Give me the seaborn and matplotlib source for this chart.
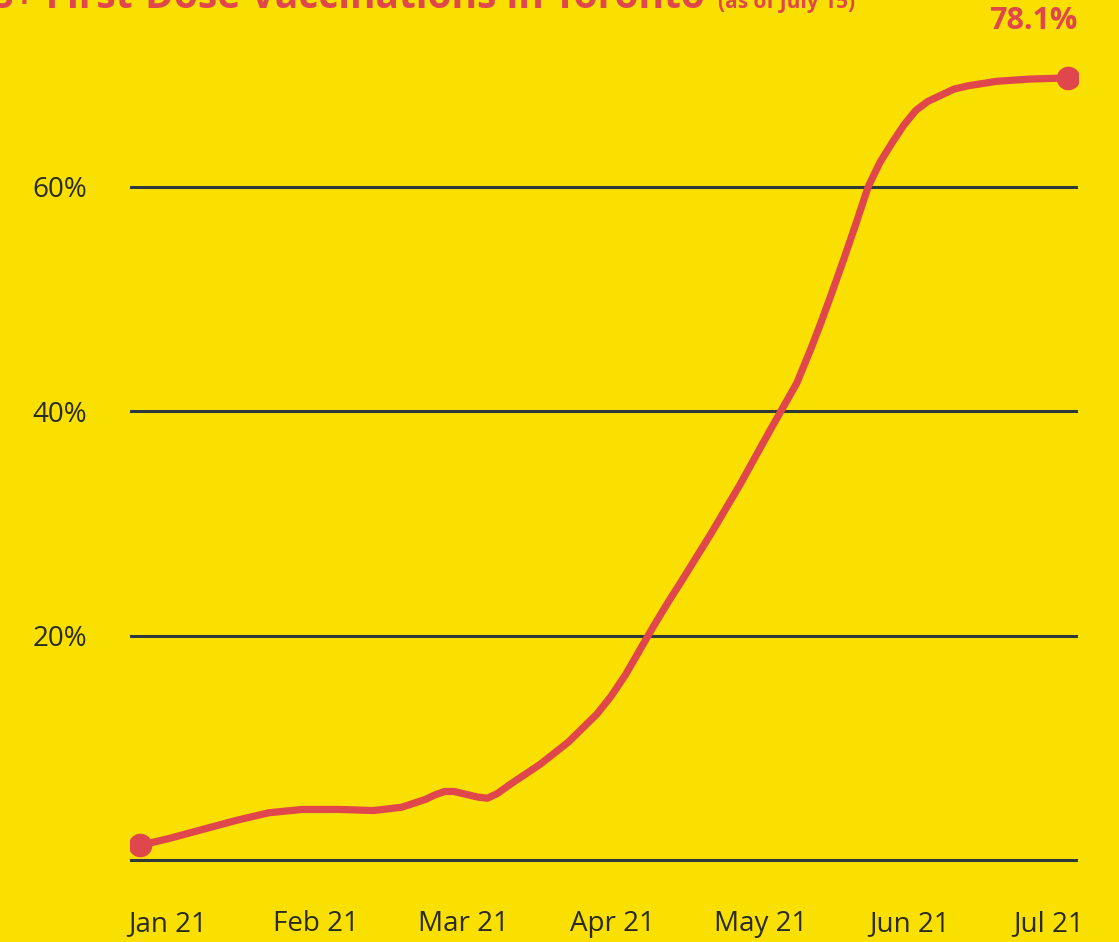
import numpy as np
import pandas as pd
import seaborn as sns
import matplotlib.pyplot as plt

# Data (day = days since Jan 1 2021, share of 18+ with first dose)
days = [0, 6, 13, 20, 27, 34, 42, 49, 55, 60, 62, 64, 66, 68, 71, 73, 75, 78, 84,
        90, 96, 99, 102, 105, 108, 111, 114, 120, 126, 132, 138, 141, 143, 145.5,
        148, 150.5, 153, 155.5, 158, 160.5, 163, 165.5, 168, 171, 174, 180, 187, 195]
pct = [1.3, 1.9, 2.7, 3.5, 4.2, 4.5, 4.5, 4.4, 4.7, 5.4, 5.8, 6.1, 6.1, 5.9, 5.6,
       5.5, 5.9, 6.8, 8.5, 10.5, 13.0, 14.6, 16.5, 18.7, 20.9, 23.0, 25.0, 29.1,
       33.4, 38.0, 42.5, 45.6, 47.8, 50.7, 53.7, 56.8, 60.0, 62.2, 63.9, 65.5,
       66.8, 67.6, 68.1, 68.7, 69.0, 69.4, 69.6, 69.7]
month_labels = ["Jan 21", "Feb 21", "Mar 21", "Apr 21", "May 21", "Jun 21", "Jul 21"]
y_ticks = [0, 20, 40, 60]
y_tick_labels = ["", "20%", "40%", "60%"]
last_label = "78.1%"
title = "18+ First-Dose Vaccinations in Toronto"
subtitle = "(as of July 15)"

df = pd.DataFrame({"day": days, "pct": pct})

YELLOW = "#FAE000"
RED = "#E0474C"
GRID = "#2F3A36"
TEXT = "#2A2A1E"

sns.set_theme(style="white")
plt.rcParams["font.family"] = ["Open Sans", "DejaVu Sans"]

fig = plt.figure(figsize=(11.19, 9.42), dpi=100)
fig.patch.set_facecolor(YELLOW)
ax = fig.add_axes([0.1162, 0.0633, 0.8472, 0.929])
ax.set_facecolor(YELLOW)

sns.lineplot(data=df, x="day", y="pct", ax=ax, color=RED, linewidth=5.2,
             solid_capstyle="round", solid_joinstyle="round", zorder=3)
# end point markers
ends = df.iloc[[0, -1]]
ax.plot(ends["day"], ends["pct"], "o", color=RED, markersize=16, zorder=4)

ax.set_xlim(-2.1, 197.1)
ax.set_ylim(-2, 76)
for v in y_ticks:
    ax.axhline(v, color=GRID, linewidth=2.2, zorder=1)

ax.set_yticks(y_ticks)
ax.set_yticklabels(y_tick_labels, fontsize=20, color=TEXT)
tick_pos = np.linspace(5.7, 161.6, 6).tolist() + [191.0]
ax.set_xticks(tick_pos)
ax.set_xticklabels(month_labels, fontsize=20, color=TEXT)
ax.tick_params(axis="y", length=0, pad=31)
ax.tick_params(axis="x", length=0, pad=20)
ax.set_xlabel("")
ax.set_ylabel("")
for s in ax.spines.values():
    s.set_visible(False)

ax.annotate(last_label, xy=(df["day"].iloc[-1], df["pct"].iloc[-1]),
            xytext=(-35, 57), textcoords="offset pixels", ha="center", va="center",
            fontsize=22, fontweight="bold", color=RED, annotation_clip=False)

# title is cut off at the top edge, as in the original image
fig.text(705 / 1119, 1 - 8 / 942, title, ha="right", va="baseline",
         fontsize=28, fontweight="bold", color=RED)
fig.text(718 / 1119, 1 - 8 / 942, subtitle, ha="left", va="baseline",
         fontsize=15, fontweight="bold", color=RED)

fig.savefig("out.png", dpi=100, facecolor=YELLOW)
